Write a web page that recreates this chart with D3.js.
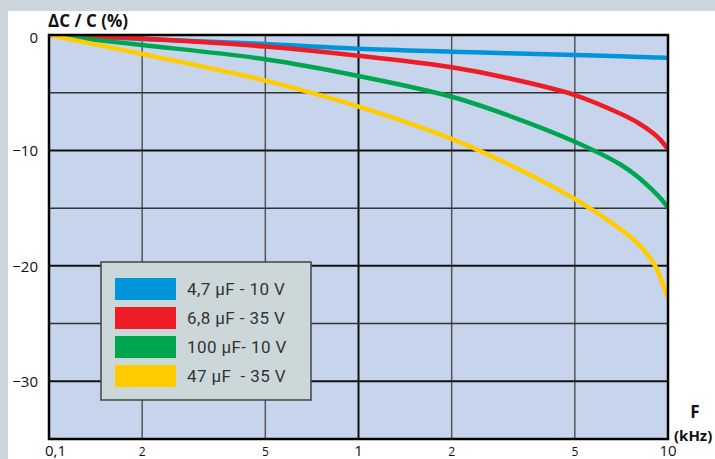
<!DOCTYPE html>
<html>
<head>
<meta charset="utf-8">
<script src="https://cdn.jsdelivr.net/npm/d3@7"></script>
<style>
  html, body { margin: 0; padding: 0; background: #ccd7dd; }
  svg { display: block; }
</style>
</head>
<body>
<svg id="chart" width="715" height="459"></svg>
<script>
// ---- data ----
const freqs = [0.1, 0.2, 0.5, 1, 2, 3, 5, 7, 8, 9, 9.5, 10];               // kHz
const blue47  = [0, -0.35, -0.78, -1.2, -1.45, -1.58, -1.73, -1.85, -1.9, -1.94, -1.955, -1.97];
const red68   = [0, -0.3, -1.0, -1.8, -2.8, -3.7, -5.2, -6.8, -7.6, -8.55, -9.15, -9.9];
const green100= [0, -0.87, -2.1, -3.55, -5.35, -6.9, -9.25, -11.2, -12.3, -13.55, -14.2, -14.95];
const yellow47= [0, -1.65, -3.95, -6.2, -9.0, -11.1, -14.2, -16.8, -18.1, -19.8, -21.2, -22.8];
const seriesNames = ["4,7 μF - 10 V", "6,8 μF - 35 V", "100 μF- 10 V", "47 μF  - 35 V"];
const seriesColors = ["#0095da", "#ee1c25", "#00a54f", "#ffcc00"];
const xTickValues = [0.1, 0.2, 0.5, 1, 2, 5, 10];
const xTickLabels = ["0,1", "2", "5", "1", "2", "5", "10"];
const yTickValues = [0, -10, -20, -30];
const yTickLabels = ["0", "\u221210", "\u221220", "\u221230"];
const yGridValues = [-5, -10, -15, -20, -25, -30];

const series = [blue47, red68, green100, yellow47];

// ---- layout ----
const svg = d3.select("#chart");
const L = 49, R = 668, T = 35, B = 439;
const x = d3.scaleLog().domain([0.1, 10]).range([L, R]);
const y = d3.scaleLinear().domain([-35, 0]).range([B, T]);

// white panel
svg.append("rect").attr("x", 8).attr("y", 11).attr("width", 715 - 8).attr("height", 459 - 11).attr("fill", "#ffffff");

// plot background
svg.append("rect").attr("x", L).attr("y", T).attr("width", R - L).attr("height", B - T).attr("fill", "#c6d5ec");

// grid
const gGrid = svg.append("g");
gGrid.selectAll("line.v").data(xTickValues.slice(1, -1)).enter().append("line")
  .attr("x1", d => x(d)).attr("x2", d => x(d)).attr("y1", T).attr("y2", B)
  .attr("stroke", d => d === 1 ? "#111" : "#555")
  .attr("stroke-width", d => d === 1 ? 2 : 1.5);
gGrid.selectAll("line.h").data(yGridValues).enter().append("line")
  .attr("x1", L).attr("x2", R).attr("y1", d => y(d)).attr("y2", d => y(d))
  .attr("stroke", d => d % 10 === 0 ? "#111" : "#333")
  .attr("stroke-width", d => d % 10 === 0 ? 2 : 1.5);

// curves
svg.append("clipPath").attr("id", "clip").append("rect")
  .attr("x", L).attr("y", T).attr("width", R - L).attr("height", B - T);
const line = d3.line().x((d, i) => x(freqs[i])).y(d => y(d)).curve(d3.curveCatmullRom.alpha(0.5));
svg.append("g").attr("clip-path", "url(#clip)")
  .selectAll("path").data(series).enter().append("path")
  .attr("d", d => line(d))
  .attr("fill", "none")
  .attr("stroke", (d, i) => seriesColors[i])
  .attr("stroke-width", 4.5)
  .attr("stroke-linecap", "butt");

// frame
svg.append("rect").attr("x", L).attr("y", T).attr("width", R - L).attr("height", B - T)
  .attr("fill", "none").attr("stroke", "#000").attr("stroke-width", 2.5);

// y labels
svg.append("g").selectAll("text").data(yTickValues).enter().append("text")
  .attr("x", 38).attr("y", d => y(d) + (d === 0 ? 2 : 0))
  .attr("text-anchor", "end").attr("dominant-baseline", "central")
  .attr("font-family", "Open Sans, sans-serif").attr("font-size", 15).attr("fill", "#111")
  .text((d, i) => yTickLabels[i]);

// x labels
const isMajor = d => (d === 0.1 || d === 1 || d === 10);
svg.append("g").selectAll("text").data(xTickValues).enter().append("text")
  .attr("x", (d, i) => i === 0 ? 45 : x(d))
  .attr("y", 455.5)
  .attr("text-anchor", (d, i) => i === 0 ? "start" : "middle")
  .attr("font-family", "Open Sans, sans-serif")
  .attr("font-size", d => isMajor(d) ? 15 : 12)
  .attr("fill", "#111")
  .text((d, i) => xTickLabels[i]);

// axis titles
svg.append("text").attr("x", 48).attr("y", 27)
  .attr("font-family", "Open Sans, sans-serif").attr("font-weight", "bold").attr("font-size", 17).attr("fill", "#111")
  .style("white-space", "pre")
  .text("\u0394C / C (%)");
svg.append("text").attr("x", 695).attr("y", 418).attr("text-anchor", "middle")
  .attr("font-family", "Open Sans, sans-serif").attr("font-weight", "bold").attr("font-size", 17).attr("fill", "#111")
  .text("F");
svg.append("text").attr("x", 674).attr("y", 441)
  .attr("font-family", "Open Sans, sans-serif").attr("font-weight", "bold").attr("font-size", 15).attr("fill", "#111")
  .text("(kHz)");

// legend
const lg = svg.append("g");
lg.append("rect").attr("x", 101).attr("y", 262).attr("width", 210).attr("height", 138)
  .attr("fill", "#ccd7da").attr("stroke", "#444").attr("stroke-width", 1.5);
const rows = lg.selectAll("g.row").data(seriesNames).enter().append("g")
  .attr("transform", (d, i) => `translate(0, ${278 + i * 29})`);
rows.append("rect").attr("x", 115).attr("y", 0).attr("width", 61).attr("height", 22)
  .attr("fill", (d, i) => seriesColors[i]);
rows.append("text").attr("x", 187).attr("y", 17)
  .attr("font-family", "Roboto, sans-serif").attr("font-size", 17).attr("letter-spacing", 0.4).attr("fill", "#333")
  .style("white-space", "pre")
  .text(d => d);
</script>
</body>
</html>
